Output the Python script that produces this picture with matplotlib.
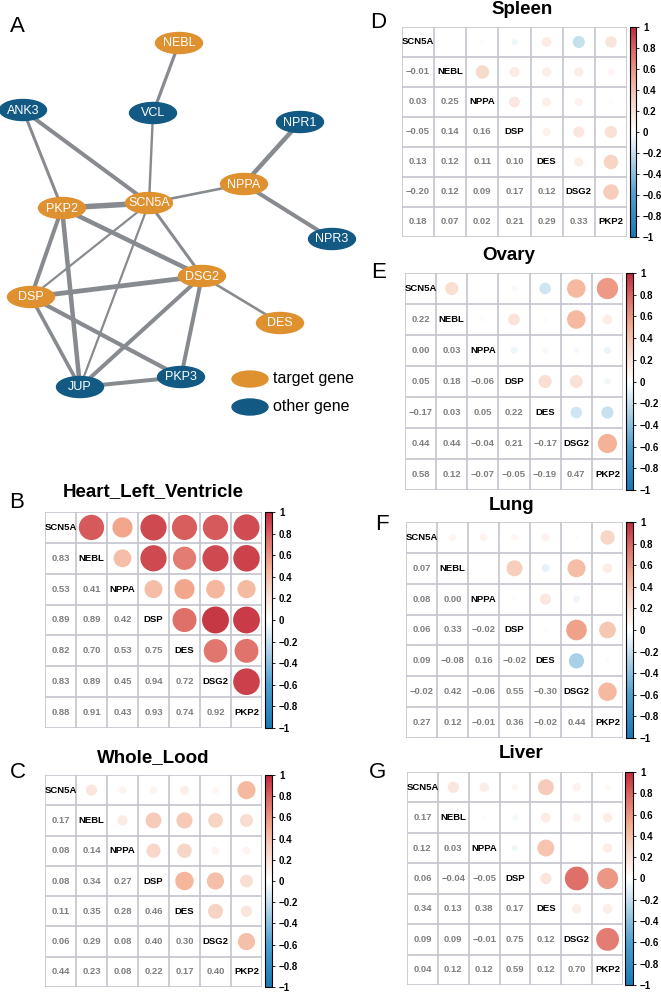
import numpy as np
import matplotlib
matplotlib.use("Agg")
import matplotlib.pyplot as plt
from matplotlib.patches import Ellipse
from matplotlib.colors import LinearSegmentedColormap, Normalize
from matplotlib.cm import ScalarMappable

plt.rcParams['font.family'] = ['Liberation Sans', 'DejaVu Sans']

W, H = 661, 992

# ---- network (panel A) ----
target_genes = ["NEBL", "NPPA", "SCN5A", "PKP2", "DSG2", "DSP", "DES"]
other_genes = ["ANK3", "VCL", "NPR1", "NPR3", "JUP", "PKP3"]
node_pos = {
    "NEBL": (179, 43), "ANK3": (23, 110), "VCL": (153, 113), "NPR1": (300, 122),
    "NPPA": (244, 184), "SCN5A": (149, 203), "PKP2": (62, 208), "NPR3": (332, 239),
    "DSG2": (202, 276), "DSP": (31, 297), "DES": (280, 323), "JUP": (80, 387),
    "PKP3": (181, 377),
}
edges = [
    ("NEBL", "VCL", 3.2), ("VCL", "SCN5A", 2.4), ("ANK3", "SCN5A", 4.0),
    ("ANK3", "PKP2", 3.0), ("NPR1", "NPPA", 4.5), ("NPPA", "NPR3", 4.0),
    ("NPPA", "SCN5A", 2.6), ("PKP2", "SCN5A", 5.5), ("PKP2", "DSG2", 4.5),
    ("PKP2", "DSP", 4.0), ("PKP2", "JUP", 4.5), ("SCN5A", "DSP", 2.2),
    ("SCN5A", "JUP", 2.2), ("SCN5A", "DSG2", 3.0), ("DSG2", "DSP", 4.8),
    ("DSG2", "DES", 2.6), ("DSG2", "JUP", 4.0), ("DSG2", "PKP3", 4.0),
    ("DSP", "JUP", 3.6), ("DSP", "PKP3", 4.2), ("JUP", "PKP3", 4.0),
]

# ---- correlation panels ----
genes = ["SCN5A", "NEBL", "NPPA", "DSP", "DES", "DSG2", "PKP2"]

heart = [[0.83],
         [0.53, 0.41],
         [0.89, 0.89, 0.42],
         [0.82, 0.70, 0.53, 0.75],
         [0.83, 0.89, 0.45, 0.94, 0.72],
         [0.88, 0.91, 0.43, 0.93, 0.74, 0.92]]
blood = [[0.17],
         [0.08, 0.14],
         [0.08, 0.34, 0.27],
         [0.11, 0.35, 0.28, 0.46],
         [0.06, 0.29, 0.08, 0.40, 0.30],
         [0.44, 0.23, 0.08, 0.22, 0.17, 0.40]]
spleen = [[-0.01],
          [0.03, 0.25],
          [-0.05, 0.14, 0.16],
          [0.13, 0.12, 0.11, 0.10],
          [-0.20, 0.12, 0.09, 0.17, 0.12],
          [0.18, 0.07, 0.02, 0.21, 0.29, 0.33]]
ovary = [[0.22],
         [0.00, 0.03],
         [0.05, 0.18, -0.06],
         [-0.17, 0.03, 0.05, 0.22],
         [0.44, 0.44, -0.04, 0.21, -0.17],
         [0.58, 0.12, -0.07, -0.05, -0.19, 0.47]]
lung = [[0.07],
        [0.08, 0.00],
        [0.06, 0.33, -0.02],
        [0.09, -0.08, 0.16, -0.02],
        [-0.02, 0.42, -0.06, 0.55, -0.30],
        [0.27, 0.12, -0.01, 0.36, -0.02, 0.44]]
liver = [[0.17],
         [0.12, 0.03],
         [0.06, -0.04, -0.05],
         [0.34, 0.13, 0.38, 0.17],
         [0.09, 0.09, -0.01, 0.75, 0.12],
         [0.04, 0.12, 0.12, 0.59, 0.12, 0.70]]

cmap = LinearSegmentedColormap.from_list("corr", [
    (0.0, "#1779B5"), (0.2, "#4EA0CF"), (0.35, "#A9D0E6"), (0.5, "#FFFFFF"),
    (0.65, "#F7D3C3"), (0.75, "#F4AE92"), (0.9, "#DB6462"), (1.0, "#C0283A")])
norm = Normalize(-1, 1)

fig = plt.figure(figsize=(W / 100, H / 100), dpi=100)


def px_rect(x0, y0, x1, y1):
    return [x0 / W, 1 - y1 / H, (x1 - x0) / W, (y1 - y0) / H]


def fmt(v):
    s = f"{v:.2f}"
    return s.replace("-", "\u2212")


def draw_corr(grid, cbar, lower, title, title_xy, letter, letter_xy):
    n = len(genes)
    m = np.eye(n)
    for i, row in enumerate(lower, start=1):
        for j, v in enumerate(row):
            m[i, j] = v
            m[j, i] = v
    ax = fig.add_axes(px_rect(*grid))
    ax.set_xlim(0, n)
    ax.set_ylim(n, 0)
    ax.axis("off")
    for k in range(n + 1):
        ax.axhline(k, color="#C4C4CE", lw=1.2, zorder=1)
        ax.axvline(k, color="#C4C4CE", lw=1.2, zorder=1)
    cell = min(grid[2] - grid[0], grid[3] - grid[1]) / n
    for i in range(n):
        for j in range(n):
            if i == j:
                ax.text(j + 0.5, i + 0.5, genes[i], ha="center", va="center",
                        fontsize=6.8, fontweight="bold", color="black")
            elif i > j:
                ax.text(j + 0.5, i + 0.5, fmt(m[i, j]), ha="center", va="center",
                        fontsize=6.8, fontweight="bold", color="#7F7F7F")
            else:
                d = 0.9 * np.sqrt(abs(m[i, j])) * cell * 0.72
                ax.scatter(j + 0.5, i + 0.5, s=d ** 2, color=cmap(norm(m[i, j])),
                           edgecolors="none", zorder=2)
    cax = fig.add_axes(px_rect(*cbar))
    ticks = np.round(np.arange(-1, 1.01, 0.2), 1)
    cb = fig.colorbar(ScalarMappable(norm=norm, cmap=cmap), cax=cax, ticks=ticks)
    cb.outline.set_linewidth(0.8)
    cb.set_ticklabels([("\u2212" if t < 0 else "") + f"{abs(t):g}" for t in ticks])
    cax.tick_params(labelsize=7, length=2.5, width=0.6, pad=2.5)
    for lab in cax.get_yticklabels():
        lab.set_fontweight("bold")
    fig.text(title_xy[0] / W, 1 - title_xy[1] / H, title, ha="center",
             va="center", fontsize=13.5, fontweight="bold")
    fig.text(letter_xy[0] / W, 1 - letter_xy[1] / H, letter, ha="center",
             va="center", fontsize=16)


# network axes
net = fig.add_axes(px_rect(0, 0, 370, 440))
net.set_xlim(0, 370)
net.set_ylim(440, 0)
net.axis("off")
for a, b, w in edges:
    (x0, y0), (x1, y1) = node_pos[a], node_pos[b]
    net.plot([x0, x1], [y0, y1], color="#878B8F", lw=w * 0.72,
             solid_capstyle="butt", zorder=1)
orange, blue = "#E0912F", "#125A84"
for g, (x, y) in node_pos.items():
    col = orange if g in target_genes else blue
    net.add_patch(Ellipse((x, y), 47, 21, color=col, zorder=2))
    net.text(x, y + 0.5, g, ha="center", va="center", color="white",
             fontsize=9, zorder=3)
for (label, col, y) in [("target gene", orange, 379), ("other gene", blue, 407)]:
    net.add_patch(Ellipse((250, y), 36, 16, color=col, zorder=2))
    net.text(273, y, label, ha="left", va="center", fontsize=11.5)
fig.text(17 / W, 1 - 27 / H, "A", ha="center", va="center", fontsize=16)

draw_corr((45, 512, 262, 728), (265, 512, 272, 728), heart,
          "Heart_Left_Ventricle", (153, 492), "B", (17, 502))
draw_corr((45, 775, 262, 987), (265, 775, 272, 987), blood,
          "Whole_Lood", (153, 758), "C", (18, 773))
draw_corr((402, 27, 627, 237), (630, 27, 636, 237), spleen,
          "Spleen", (522, 10), "D", (378, 22))
draw_corr((405, 273, 623, 490), (626, 273, 633, 490), ovary,
          "Ovary", (509, 255), "E", (379, 273))
draw_corr((406, 522, 623, 738), (626, 522, 633, 738), lung,
          "Lung", (512, 505), "F", (382, 525))
draw_corr((407, 772, 623, 985), (625, 772, 633, 985), liver,
          "Liver", (521, 753), "G", (378, 772))

fig.savefig("out.png", dpi=100)
